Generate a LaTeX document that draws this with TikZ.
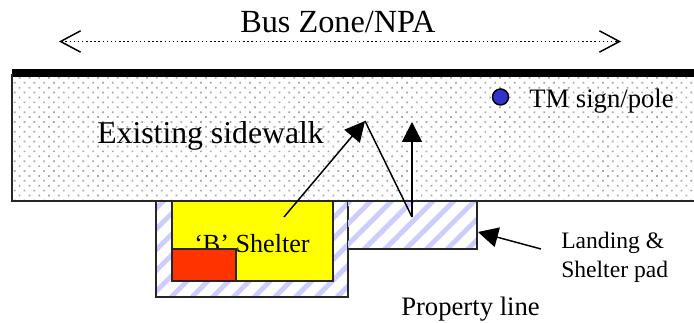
\documentclass[tikz,border=0pt]{standalone}
\usepackage{xcolor}
\usepackage{fontspec}
\setmainfont{Liberation Serif}
\usetikzlibrary{arrows.meta,patterns.meta}
\definecolor{stripeblue}{HTML}{CCCCFF}
\definecolor{shelteryellow}{HTML}{FFFF00}
\definecolor{benchred}{HTML}{FF3300}
\definecolor{poleblue}{HTML}{3333CC}
\tikzset{
  walkfill/.style={pattern={Dots[angle=45,distance=5.2pt,radius=0.9pt]},pattern color=black!35},
  padfill/.style={pattern={Lines[angle=45,distance=11pt,line width=3.6pt]},pattern color=stripeblue},
  outline/.style={draw=black!85,line width=1.1pt},
  bigtext/.style={anchor=base west,inner sep=0pt,font=\fontsize{24}{24}\selectfont},
  midtext/.style={anchor=base west,inner sep=0pt,font=\fontsize{20}{20}\selectfont},
  smalltext/.style={anchor=base west,inner sep=0pt,font=\fontsize{17.7}{18}\selectfont},
  pointer/.style={-{Triangle[length=15pt,width=15pt]},line width=1.1pt},
  spanline/.style={{Straight Barb[length=15pt,width=16pt,line width=1.1pt]}-{Straight Barb[length=15pt,width=16pt,line width=1.1pt]},dotted,line width=1.1pt}
}
\begin{document}
\begin{tikzpicture}[x=0.75pt,y=-0.75pt]
  \useasboundingbox (0,0) rectangle (694,323);

  \fill[white] (0,0) rectangle (694,323);
  \fill[walkfill] (12,74) rectangle (694,201);

  \fill[padfill] (156,201) rectangle (348,297);
  \draw[outline] (156,201) -- (156,297) -- (348,297) -- (348,201);
  \fill[padfill] (348,201) rectangle (477,249);
  \draw[outline] (348,249) -- (477,249) -- (477,201);

  \fill[black] (12,69) rectangle (694,77);
  \draw[outline] (12,74) -- (12,201) -- (694,201);

  \filldraw[fill=shelteryellow,outline] (172,201) rectangle (333,281);
  \node[midtext,font=\fontsize{19.6}{20}\selectfont] (shelter) at (194,253) {‘B’ Shelter};
  \filldraw[fill=benchred,outline] (172,249) rectangle (236,281);

  \filldraw[fill=poleblue,draw=black,line width=1.1pt] (500.5,97) circle (8);

  \node[bigtext,font=\fontsize{24.2}{24}\selectfont] (zone) at (240,33) {Bus Zone/NPA};
  \node[bigtext,font=\fontsize{23.8}{24}\selectfont] (walk) at (97,144) {Existing sidewalk};
  \node[midtext] (sign) at (529,108) {TM sign/pole};
  \node[midtext] (property) at (401,316) {Property line};
  \node[smalltext] (landing) at (561,249) {Landing \&};
  \node[smalltext] (padlabel) at (561,278) {Shelter pad};

  \coordinate (zoneleft) at (59,41.5);
  \coordinate (zoneright) at (621,41.5);
  \coordinate (roofend) at (284,217);
  \coordinate (apex) at (365,121);
  \coordinate (foot) at (412,217);
  \coordinate (top) at (412,122);
  \coordinate (padtail) at (541,249);
  \coordinate (padtip) at (478,232);

  \draw[spanline] (zoneleft) -- (zoneright);
  \draw[pointer] (roofend) -- (apex);
  \draw[line width=1.1pt] (apex) -- (foot);
  \draw[pointer] (foot) -- (top);
  \draw[pointer] (padtail) -- (padtip);
\end{tikzpicture}
\end{document}
